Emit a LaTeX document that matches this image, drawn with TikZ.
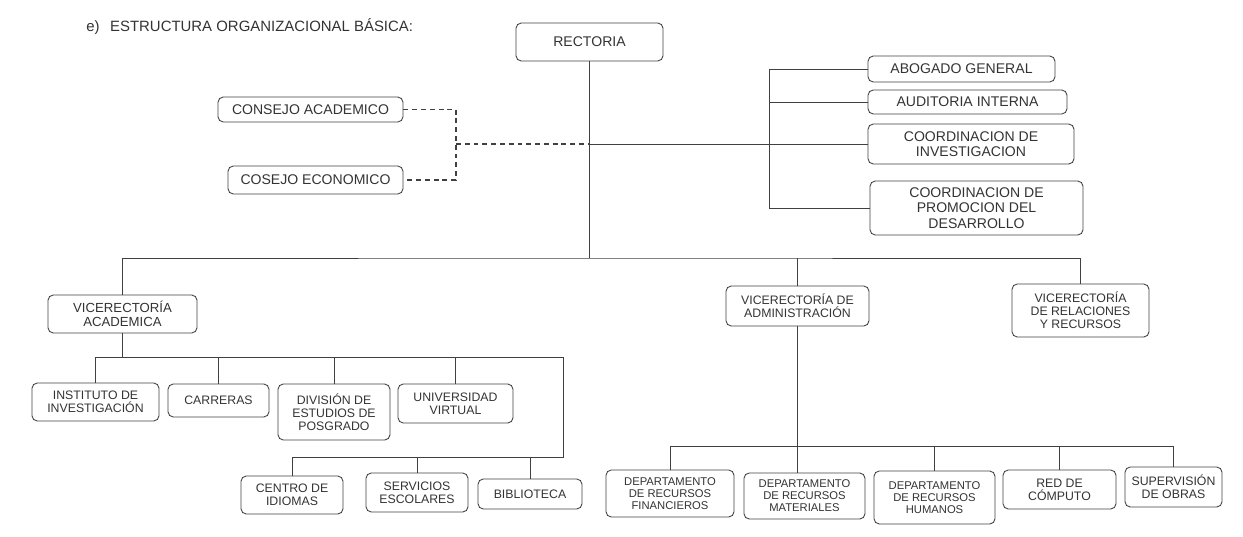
\documentclass[tikz,border=0pt]{standalone}
\usepackage{fontspec}
\setmainfont{Liberation Sans}
\begin{document}
\begin{tikzpicture}[x=0.02cm,y=-0.02cm,
	org_node/.style={draw=black!75,line width=0.5pt,rounded corners=3pt,align=center,inner sep=0pt,text=black!80,font=\fontsize{7}{7.4}\selectfont},
	big_node/.style={org_node,font=\fontsize{8}{8.7}\selectfont},
	small_node/.style={org_node,font=\fontsize{6.4}{6.8}\selectfont},
	box_size/.style 2 args={minimum width=#1*0.02cm,minimum height=#2*0.02cm},
	con_line/.style={draw=black!75,line width=0.5pt},
	dash_line/.style={draw=black!75,line width=0.7pt,dash pattern=on 2.8pt off 2.2pt}]
	
	\useasboundingbox (0,0) rectangle (1243,537);
	
	\node[anchor=west,inner sep=0pt,text=black!80,font=\fontsize{8.5}{10}\selectfont] (title) at (86,27) {e)\hspace{6pt}ESTRUCTURA ORGANIZACIONAL BÁSICA:};
	
	\node[big_node,box_size={147}{38}] (rect) at (589.5,42) {RECTORIA};
	\node[big_node,box_size={185}{25}] (cacad) at (310.5,109.5) {CONSEJO ACADEMICO};
	\node[big_node,box_size={175}{28}] (cecon) at (315.5,180) {COSEJO ECONOMICO};
	\node[big_node,box_size={187}{26}] (abog) at (961.5,69) {ABOGADO GENERAL};
	\node[big_node,box_size={199}{24}] (audit) at (967.5,102) {AUDITORIA INTERNA};
	\node[big_node,box_size={206}{40}] (cinv) at (971,144) {COORDINACION DE\\INVESTIGACION};
	\node[big_node,box_size={213}{54}] (cprom) at (976.5,208) {COORDINACION DE\\PROMOCION DEL\\DESARROLLO};
	
	\node[org_node,box_size={149}{38},font=\fontsize{7.5}{8.2}\selectfont] (vacad) at (122.5,314) {VICERECTORÍA\\ACADEMICA};
	\node[org_node,box_size={143}{40}] (vadm) at (797.5,306) {VICERECTORÍA DE\\ADMINISTRACIÓN};
	\node[org_node,box_size={137}{53}] (vrel) at (1080.5,310.5) {VICERECTORÍA\\DE RELACIONES\\Y RECURSOS};
	
	\node[org_node,box_size={127}{38}] (inst) at (95.5,402) {INSTITUTO DE\\INVESTIGACIÓN};
	\node[org_node,box_size={101}{33}] (carr) at (218.5,400.5) {CARRERAS};
	\node[org_node,box_size={112}{56}] (divi) at (334,412) {DIVISIÓN DE\\ESTUDIOS DE\\POSGRADO};
	\node[org_node,box_size={115}{39}] (univ) at (455.5,403.5) {UNIVERSIDAD\\VIRTUAL};
	\node[org_node,box_size={102}{38}] (cidi) at (292,495) {CENTRO DE\\IDIOMAS};
	\node[org_node,box_size={102}{39}] (sesc) at (417,492.5) {SERVICIOS\\ESCOLARES};
	\node[org_node,box_size={104}{30}] (bibl) at (530,494) {BIBLIOTECA};
	
	\node[small_node,box_size={128}{47}] (dfin) at (670,493.5) {DEPARTAMENTO\\DE RECURSOS\\FINANCIEROS};
	\node[small_node,box_size={121}{46}] (dmat) at (804.5,496) {DEPARTAMENTO\\DE RECURSOS\\MATERIALES};
	\node[small_node,box_size={121}{53}] (dhum) at (934.5,497.5) {DEPARTAMENTO\\DE RECURSOS\\HUMANOS};
	\node[org_node,box_size={113}{39}] (dred) at (1059.5,489.5) {RED DE\\CÓMPUTO};
	\node[org_node,box_size={97}{40}] (dsup) at (1173.5,487) {SUPERVISIÓN\\DE OBRAS};
	
	\coordinate (r1) at (589.5,258);
	\coordinate (cj) at (456,144);
	\coordinate (r2) at (589.5,144);
	\coordinate (bt) at (769,0);
	\coordinate (a1) at (563,357);
	\coordinate (a2) at (563,457);
	\coordinate (d1) at (1173.5,446);
	
	\draw[dash_line] (cacad.east) -| (cj) |- (cecon.east);
	\draw[dash_line] (cj) -- (r2);
	\draw[con_line] (r2) -- (cinv.west);
	\draw[con_line] (rect.south) -- (r1);
	\draw[con_line] (abog.west) -- (abog.west -| bt) -- (cprom.west -| bt) -- (cprom.west);
	\draw[con_line] (audit.west) -- (audit.west -| bt);
	
	\draw[con_line] (vacad.north) |- (r1) -| (vrel.north);
	\draw[con_line] (vadm.north) -- (vadm.north |- r1);
	
	\draw[con_line] (vacad.south) -- (vacad.south |- a1);
	\draw[con_line] (inst.north) |- (a1) -- (a2) -| (cidi.north);
	\draw[con_line] (carr.north) -- (carr.north |- a1);
	\draw[con_line] (divi.north) -- (divi.north |- a1);
	\draw[con_line] (univ.north) -- (univ.north |- a1);
	\draw[con_line] (sesc.north) -- (sesc.north |- a2);
	\draw[con_line] (bibl.north) -- (bibl.north |- a2);
	
	\draw[con_line] (vadm.south) -- (vadm.south |- dmat.north);
	\draw[con_line] (dfin.north) |- (d1) -- (dsup.north);
	\draw[con_line] (dhum.north) -- (dhum.north |- d1);
	\draw[con_line] (dred.north) -- (dred.north |- d1);
\end{tikzpicture}
\end{document}
